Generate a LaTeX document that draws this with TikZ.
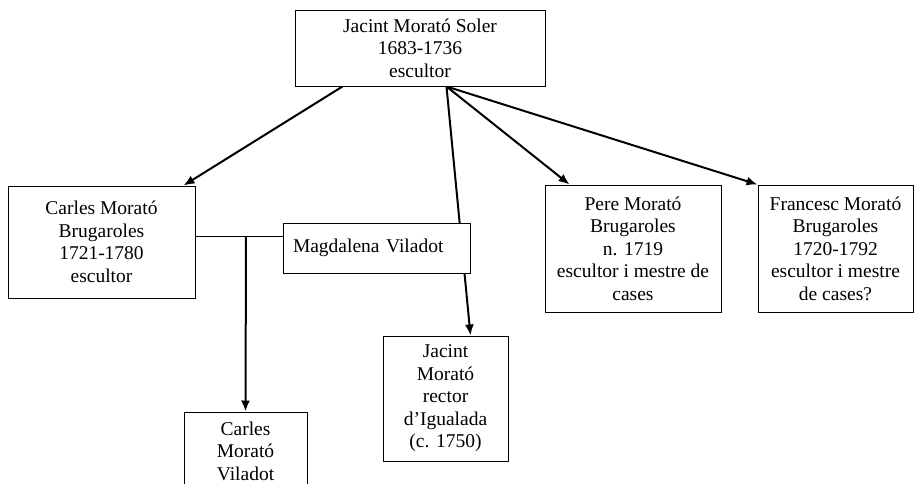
\documentclass[tikz,border=0pt]{standalone}
\usepackage{fontspec}
\setmainfont{Liberation Serif}
\usetikzlibrary{arrows.meta,backgrounds,calc}

\begin{document}
\begin{tikzpicture}[x=1pt,y=-1pt,
  person/.style={draw,line width=1pt,fill=white,inner sep=0pt,align=center,
    font=\fontsize{19.5}{22.5}\selectfont},
  descent/.style={line width=2pt,-{Latex[length=11pt,width=9pt]}}]
\path[use as bounding box] (0,0) rectangle (914,483);
\clip (0,0) rectangle (914,483);

% father
\node[person,minimum width=250pt,minimum height=76pt] (jacint) at (420,48)
  {Jacint Morató Soler\\1683-1736\\escultor};

% children
\node[person,minimum width=187pt,minimum height=112pt] (carles) at (101.5,242)
  {Carles Morató\\Brugaroles\\1721-1780\\escultor};
\node[person,minimum width=187pt,minimum height=50pt,text width=167pt,align=left] (magdalena) at (376.5,248)
  {Magdalena Viladot};
\node[person,minimum width=176pt,minimum height=127pt] (pere) at (633,248.5)
  {Pere Morató\\Brugaroles\\n. 1719\\escultor i mestre de\\cases};
\node[person,minimum width=155pt,minimum height=127pt] (francesc) at (835.5,248.5)
  {Francesc Morató\\Brugaroles\\1720-1792\\escultor i mestre\\de cases?};
\node[person,minimum width=125pt,minimum height=125pt] (rector) at (445.5,398.5)
  {Jacint\\Morató\\rector\\d’Igualada\\(c. 1750)};

% grandson
\node[person,minimum width=123pt,minimum height=78pt] (son) at (245.5,451)
  {Carles\\Morató\\Viladot};

\coordinate (marriage) at (246,236);

\begin{scope}[on background layer]
  \draw[descent] ([xshift=48pt]jacint.south west) -- ([xshift=-12pt]carles.north east);
  \draw[descent] ([xshift=152pt]jacint.south west) -- ([xshift=-38pt]rector.north east);
  \draw[descent] ([xshift=152pt]jacint.south west) -- ([xshift=25pt]pere.north west);
  \draw[descent] ([xshift=152pt]jacint.south west) -- (francesc.north west);
  \draw[line width=1pt] (carles.east |- marriage) -- (magdalena.west |- marriage);
  \draw[descent] (marriage) -- (son.north);
\end{scope}
\end{tikzpicture}
\end{document}
